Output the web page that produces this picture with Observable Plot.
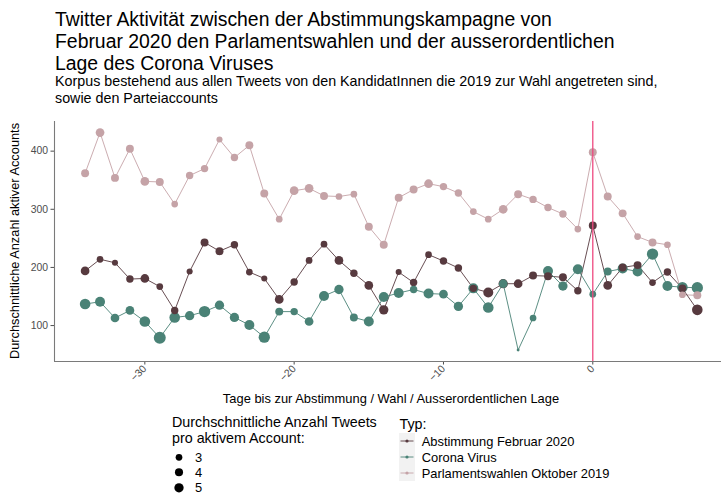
<!DOCTYPE html>
<html><head><meta charset="utf-8">
<script src="https://cdn.jsdelivr.net/npm/d3@7"></script>
<script src="https://cdn.jsdelivr.net/npm/@observablehq/plot@0.6"></script>
<style>
body{margin:0;background:#fff;width:721px;height:494px;overflow:hidden;position:relative;font-family:"Liberation Sans",Arial,Helvetica,sans-serif;}
#title{position:absolute;left:55px;top:8.3px;font-size:19.4px;line-height:22px;color:#000;white-space:nowrap}
#subtitle{position:absolute;left:55px;top:72.5px;font-size:14.3px;line-height:17px;color:#000;white-space:nowrap}
#chart{position:absolute;left:0;top:110px}
#overlay{position:absolute;left:0;top:0;pointer-events:none}
</style></head><body>
<div id="title">Twitter Aktivität zwischen der Abstimmungskampagne von<br>Februar 2020 den Parlamentswahlen und der ausserordentlichen<br>Lage des Corona Viruses</div>
<div id="subtitle">Korpus bestehend aus allen Tweets von den KandidatInnen die 2019 zur Wahl angetreten sind,<br>sowie den Parteiaccounts</div>
<div id="chart"></div>
<svg id="overlay" width="721" height="494"></svg>
<script>
// ---- data ----
const days = [-34,-33,-32,-31,-30,-29,-28,-27,-26,-25,-24,-23,-22,-21,-20,-19,-18,-17,-16,-15,-14,-13,-12,-11,-10,-9,-8,-7,-6,-5,-4,-3,-2,-1,0,1,2,3,4,5,6,7];
const types = ["Abstimmung Februar 2020", "Corona Virus", "Parlamentswahlen Oktober 2019"];
const typeColors = ["#573a3f", "#4a8276", "#c5a3a7"];

// average number of active accounts
const abstimmung = [194,214,208,180,181,167,126,193,243,228,239,192,181,145,175,212,240,212,190,169,127,192,174,222,211,199,164,157,172,172,186,185,183,160,272,169,200,204,174,192,164,127];
const corona     = [137,141,113,126,107,79,114,117,124,135,114,101,80,124,124,107,151,162,114,107,149,156,162,155,154,133,164,131,172,58,113,194,168,197,154,193,198,193,223,168,166,165];
const parlament  = [362,432,354,404,348,347,309,358,370,420,389,410,327,283,332,336,323,322,326,270,239,320,334,344,339,328,296,283,300,326,317,303,292,266,398,322,293,253,243,239,153,152];

// average tweets per active account
const abstimmungTweets = [4.5,3.0,2.6,3.5,4.5,3.0,3.5,2.6,3.9,3.9,3.5,3.0,2.6,4.5,3.5,3.0,3.0,4.5,3.5,4.5,5.0,2.6,3.5,3.0,3.5,3.5,3.5,5.6,5.0,4.5,3.9,3.9,3.9,3.5,3.9,4.5,3.9,3.9,3.0,3.5,3.9,6.2];
const coronaTweets     = [6.2,5.6,4.5,4.5,6.2,7.6,6.2,5.0,6.9,5.0,5.0,5.6,6.9,3.9,3.5,4.5,5.6,5.0,3.9,5.6,5.6,5.6,3.5,5.6,4.5,5.0,5.6,6.2,4.5,1.0,3.0,5.6,5.0,5.6,3.0,3.9,5.6,5.6,6.9,5.6,6.2,6.9];
const parlamentTweets  = [3.9,4.5,3.9,3.9,4.5,3.9,3.0,3.5,3.5,2.6,3.5,3.9,3.9,3.0,4.5,4.5,3.9,3.0,3.0,3.9,3.9,3.9,3.9,4.5,3.5,3.5,3.0,3.0,4.5,3.9,3.5,3.5,3.5,3.0,3.9,3.9,3.9,3.0,3.9,3.0,3.0,3.9];

const eventDay = [0];
const xTicks = [-30, -20, -10, 0];
const yTicks = [100, 200, 300, 400];
const sizeBreaks = [3, 4, 5];
const xDomain = [-36.05, 8.62];
const yDomain = [38.2, 451];

// ---- table ----
const seriesVals = [abstimmung, corona, parlament];
const seriesTw = [abstimmungTweets, coronaTweets, parlamentTweets];
const drawOrder = [2, 0, 1];
const rows = [];
for (const s of drawOrder) {
  days.forEach((d, i) => rows.push({type: types[s], day: d, value: seriesVals[s][i], tweets: seriesTw[s][i]}));
}

const rOpts = {type: "pow", exponent: 0.5, domain: [1, 8], range: [1.46, 6.18]};
const font = '"Liberation Sans", Arial, Helvetica, sans-serif';

const chart = Plot.plot({
  width: 721, height: 280,
  marginLeft: 54, marginRight: 0, marginTop: 11, marginBottom: 29,
  style: {fontFamily: font, fontSize: "10.4px", color: "#4d4d4d", background: "transparent", overflow: "visible"},
  x: {domain: xDomain, ticks: xTicks, tickRotate: -45, tickSize: 3.5, tickPadding: 2, label: null},
  y: {domain: yDomain, ticks: yTicks, tickSize: 3.5, tickPadding: 3, label: null},
  r: rOpts,
  color: {domain: types, range: typeColors},
  marks: [
    Plot.ruleY([yDomain[0]], {stroke: "#7a7a7a", strokeWidth: 1.1}),
    Plot.ruleX([xDomain[0]], {stroke: "#7a7a7a", strokeWidth: 1.1}),
    Plot.line(rows, {x: "day", y: "value", z: "type", stroke: "type", strokeWidth: 0.9}),
    Plot.dot(rows, {x: "day", y: "value", r: "tweets", fill: "type", stroke: null}),
    Plot.ruleX(eventDay, {stroke: "#ee4a80", strokeWidth: 1.3})
  ]
});
document.getElementById("chart").appendChild(chart);

// ---- overlay: axis titles and legends ----
const ov = d3.select("#overlay").style("font-family", font);
ov.append("text").attr("transform", "translate(19,241) rotate(-90)")
  .attr("text-anchor", "middle").attr("font-size", 12.8).attr("fill", "#000")
  .text("Durchschnittliche Anzahl aktiver Accounts");
ov.append("text").attr("x", 391).attr("y", 403)
  .attr("text-anchor", "middle").attr("font-size", 12.9).attr("fill", "#000")
  .text("Tage bis zur Abstimmung / Wahl / Ausserordentlichen Lage");

// size legend
const rScale = Plot.scale({r: rOpts});
ov.append("text").attr("x", 172).attr("y", 427).attr("font-size", 14.3).attr("fill", "#000").text("Durchschnittliche Anzahl Tweets");
ov.append("text").attr("x", 172).attr("y", 442.5).attr("font-size", 14.3).attr("fill", "#000").text("pro aktivem Account:");
const sizeY = [457.3, 472.3, 487.8];
sizeBreaks.forEach((v, i) => {
  ov.append("circle").attr("cx", 179).attr("cy", sizeY[i]).attr("r", rScale.apply(v)).attr("fill", "#000");
  ov.append("text").attr("x", 195).attr("y", sizeY[i] + 4.6).attr("font-size", 12.9).attr("fill", "#000").text(v);
});

// type legend
ov.append("text").attr("x", 399.5).attr("y", 428.5).attr("font-size", 14.3).attr("fill", "#000").text("Typ:");
types.forEach((t, i) => {
  const cy = 441 + i * 16;
  ov.append("rect").attr("x", 399).attr("y", cy - 8).attr("width", 16).attr("height", 16).attr("fill", "#f2f2f2");
  ov.append("line").attr("x1", 400.5).attr("x2", 413.5).attr("y1", cy).attr("y2", cy).attr("stroke", typeColors[i]).attr("stroke-width", 0.9);
  ov.append("circle").attr("cx", 407).attr("cy", cy).attr("r", 1.6).attr("fill", typeColors[i]);
  ov.append("text").attr("x", 421.7).attr("y", cy + 4.6).attr("font-size", 12.9).attr("fill", "#000").text(t);
});
</script>
</body></html>
